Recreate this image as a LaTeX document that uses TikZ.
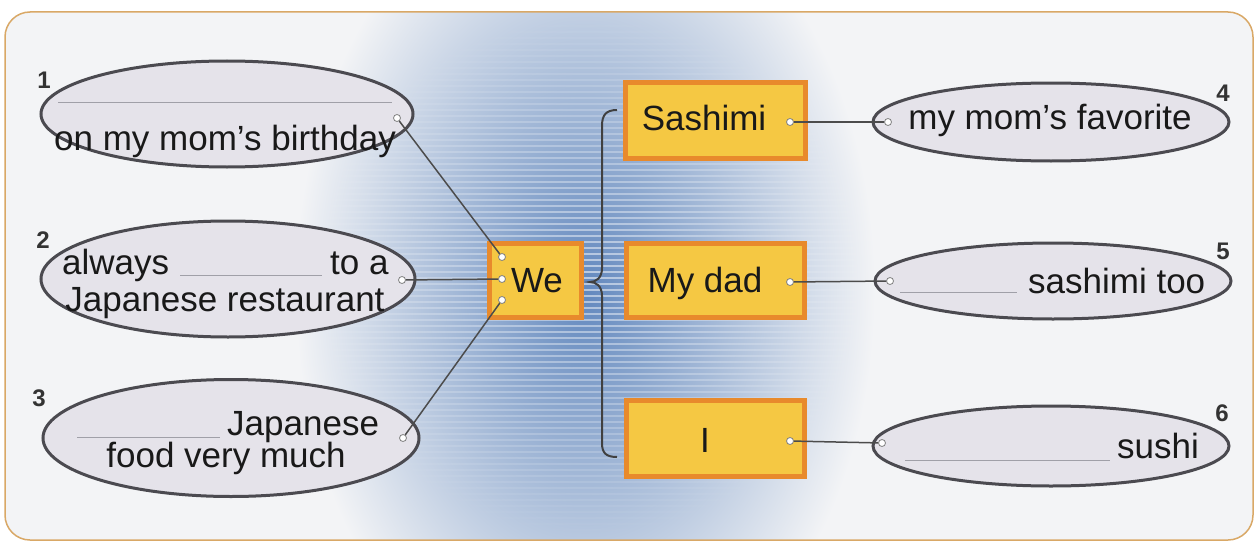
\documentclass[tikz,border=0pt]{standalone}
\usepackage{fontspec}
\setmainfont{Liberation Sans}
\usetikzlibrary{shapes.geometric,fadings}
\definecolor{boxfill}{HTML}{F5C843}
\definecolor{boxedge}{HTML}{E88A2C}
\definecolor{ellfill}{HTML}{E5E3EA}
\definecolor{elledge}{HTML}{4B4A50}
\definecolor{bandblue}{HTML}{6288BE}
\definecolor{framec}{HTML}{D9A866}
\definecolor{pagebg}{HTML}{F3F4F6}
\definecolor{blankc}{HTML}{A0A0A8}
\tikzfading[name=bandfade, inner color=transparent!0, outer color=transparent!100]
\begin{document}
\begin{tikzpicture}[x=1pt,y=-1pt,
  txt/.style={font=\fontsize{35}{37}\selectfont, inner sep=0pt, anchor=base, text=black!90},
  num/.style={font=\fontsize{24}{24}\selectfont\bfseries, text=black!80, inner sep=0pt},
  bubble/.style={ellipse, draw=elledge, line width=3pt, fill=ellfill, inner sep=0pt},
  wbox/.style={rectangle, draw=boxedge, line width=5pt, fill=boxfill, inner sep=0pt},
  dot/.style={circle, draw=gray, fill=white, line width=0.8pt, minimum size=7pt, inner sep=0pt},
  link/.style={draw=black!70, line width=1.5pt},
  blank/.style={draw=blankc, line width=1pt},
  bracec/.style={draw=black!75, line width=2pt}]
\useasboundingbox (0,0) rectangle (1258,543);
\fill[white] (0,0) rectangle (1258,543);
% frame and background band
\fill[pagebg, rounded corners=25pt] (5,12) rectangle (1253,540);
\begin{scope}
  \clip[rounded corners=25pt] (5,12) rectangle (1253,540);
  \shade[inner color=bandblue, outer color=pagebg] (585,290) ellipse [x radius=290, y radius=420];
  \draw[white, opacity=0.55, line width=1.8pt, path fading=bandfade, fit fading=true]
    \foreach \yy in {14,20,...,540} {(300,\yy) -- (880,\yy)};
\end{scope}
\draw[framec, line width=1.5pt, rounded corners=25pt] (5,12) rectangle (1253,540);

% ellipses
\node[bubble, minimum width=372pt, minimum height=106pt] (e1) at (227,114) {};
\node[bubble, minimum width=374pt, minimum height=116pt] (e2) at (228,279) {};
\node[bubble, minimum width=376pt, minimum height=117pt] (e3) at (231,438) {};
\node[bubble, minimum width=356pt, minimum height=78pt] (e4) at (1051,122) {};
\node[bubble, minimum width=356pt, minimum height=76pt] (e5) at (1053,281) {};
\node[bubble, minimum width=356pt, minimum height=80pt] (e6) at (1051,446) {};

% numbers
\node[num] (n1) at (44,80) {1};
\node[num] (n2) at (43,240) {2};
\node[num] (n3) at (39,398) {3};
\node[num] (n4) at (1223,93) {4};
\node[num] (n5) at (1223,251) {5};
\node[num] (n6) at (1222,413) {6};

% boxes
\node[wbox, minimum width=180pt, minimum height=76pt] (sashimi) at (715.5,120) {};
\node[wbox, minimum width=178pt, minimum height=74pt] (mydad) at (715,280) {};
\node[wbox, minimum width=178pt, minimum height=76pt] (ibox) at (715,438) {};
\node[wbox, minimum width=92pt, minimum height=74pt] (we) at (535,280) {};

% brace
\draw[bracec] (617,110) .. controls (606,110) and (602,115) .. (602,126) -- (602,268)
  .. controls (602,278) and (596,282) .. (590,282)
  .. controls (596,282) and (602,286) .. (602,296) -- (602,443)
  .. controls (602,453) and (606,457) .. (617,457);

% texts
\node[txt] (t1) at (225,150) {on my mom’s birthday};
\draw[blank] (58,102) -- (392,102);
\node[txt, anchor=base west] (t2a) at (62,274) {always};
\draw[blank] (180,275) -- (322,275);
\node[txt, anchor=base west] (t2b) at (330,274) {to a};
\node[txt] (t2c) at (225,311) {Japanese restaurant};
\draw[blank] (77,437) -- (220,437);
\node[txt, anchor=base west] (t3a) at (227,435) {Japanese};
\node[txt] (t3b) at (226,467) {food very much};
\node[txt] (t4) at (1050,129) {my mom’s favorite};
\draw[blank] (900,292) -- (1017,292);
\node[txt, anchor=base west] (t5) at (1028,293) {sashimi too};
\draw[blank] (905,460) -- (1110,460);
\node[txt, anchor=base west] (t6) at (1117,458) {sushi};
\node[txt] (ts) at (704,130) {Sashimi};
\node[txt] (tm) at (705,292) {My dad};
\node[txt] (ti) at (705,452) {I};
\node[txt] (tw) at (537,292) {We};

% dots
\node[dot] (d1) at (397,118) {};
\node[dot] (d2) at (402,280) {};
\node[dot] (d3) at (403,438) {};
\node[dot] (w1) at (502,257) {};
\node[dot] (w2) at (502,279) {};
\node[dot] (w3) at (502,300) {};
\node[dot] (ds) at (790,122) {};
\node[dot] (dm) at (790,282) {};
\node[dot] (di) at (790,441) {};
\node[dot] (d4) at (888,122) {};
\node[dot] (d5) at (890,281) {};
\node[dot] (d6) at (882,443) {};

% connectors
\draw[link] (d1) -- (w1);
\draw[link] (d2) -- (w2);
\draw[link] (d3) -- (w3);
\draw[link] (ds) -- (d4);
\draw[link] (dm) -- (d5);
\draw[link] (di) -- (d6);
\end{tikzpicture}
\end{document}
